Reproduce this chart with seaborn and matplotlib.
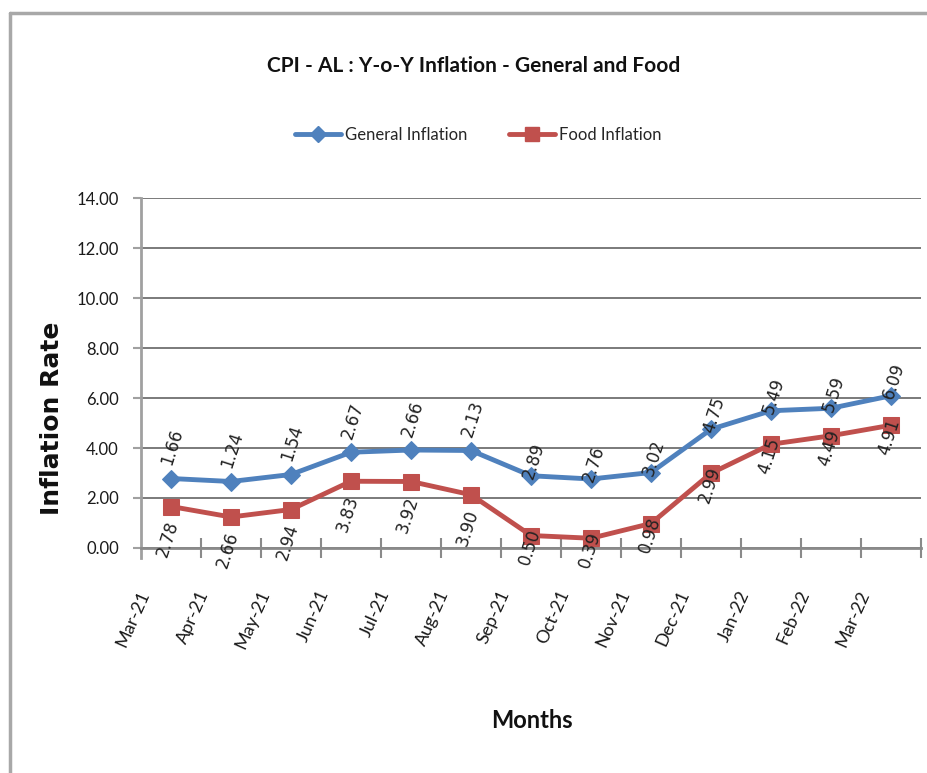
import matplotlib
matplotlib.use("Agg")
import matplotlib.pyplot as plt
import matplotlib.transforms as mtrans
from matplotlib.lines import Line2D
import seaborn as sns
import pandas as pd

# ---- data ----
months = ["Mar-21", "Apr-21", "May-21", "Jun-21", "Jul-21", "Aug-21", "Sep-21",
          "Oct-21", "Nov-21", "Dec-21", "Jan-22", "Feb-22", "Mar-22"]
general = [2.78, 2.66, 2.94, 3.83, 3.92, 3.90, 2.89, 2.76, 3.02, 4.75, 5.49, 5.59, 6.09]
food = [1.66, 1.24, 1.54, 2.67, 2.66, 2.13, 0.50, 0.39, 0.98, 2.99, 4.15, 4.49, 4.91]
yticks = [0, 2, 4, 6, 8, 10, 12, 14]
series_names = ["General Inflation", "Food Inflation"]
colors = ["#4F81BD", "#C0504D"]

sns.set_theme(style="white")
plt.rcParams["font.family"] = ["Lato", "DejaVu Sans"]

W, H = 928, 773
fig = plt.figure(figsize=(W / 100, H / 100), dpi=100)
fig.patch.set_facecolor("white")

# outer chart border (top + left)
fig.add_artist(Line2D([10 / W, 10 / W], [0, 1 - 13 / H], transform=fig.transFigure,
                      color="#a8a8a8", lw=2.5))
fig.add_artist(Line2D([10 / W, 1], [1 - 13 / H, 1 - 13 / H], transform=fig.transFigure,
                      color="#a8a8a8", lw=2.5))

ax = fig.add_axes([141 / W, 1 - 548 / H, 780 / W, 350 / H])

df = pd.DataFrame({
    "Month": months * 2,
    "Rate": general + food,
    "Series": [series_names[0]] * len(months) + [series_names[1]] * len(months),
})
palette = dict(zip(series_names, colors))
markers = {series_names[0]: "D", series_names[1]: "s"}
sizes_ms = {series_names[0]: 9, series_names[1]: 11}

for name in series_names:
    sub = df[df["Series"] == name]
    sns.lineplot(data=sub, x="Month", y="Rate", color=palette[name], marker=markers[name],
                 markersize=sizes_ms[name], markeredgecolor=palette[name], lw=3.5,
                 sort=False, ax=ax, legend=False, zorder=3)

ax.set_xlim(-0.5, len(months) - 0.5)
ax.set_ylim(0, 14)
ax.set_yticks(yticks)
ax.set_yticklabels([f"{v:.2f}" for v in yticks], fontsize=12, color="#1a1a1a")
ax.yaxis.grid(True, color="#7a7a7a", lw=1.4)
ax.xaxis.grid(False)
ax.set_axisbelow(True)

for s in ["top", "right"]:
    ax.spines[s].set_visible(False)
ax.spines["left"].set_color("#a0a0a0")
ax.spines["left"].set_linewidth(2)
ax.spines["left"].set_bounds(-0.4, 14)
ax.spines["bottom"].set_color("#8a8a8a")
ax.spines["bottom"].set_linewidth(2)

ax.tick_params(axis="y", left=True, length=6, width=1.5, color="#a0a0a0", pad=10)
ax.set_xticks(range(len(months)))
ax.set_xticks([i + 0.5 for i in range(len(months))], minor=True)
ax.tick_params(axis="x", which="major", length=0, pad=31)
ax.tick_params(axis="x", which="minor", bottom=True, direction="inout", length=14,
               width=1.5, color="#8a8a8a")
ax.set_xticklabels(months, fontsize=13, color="#1a1a1a")
offset = mtrans.ScaledTranslation(-0.26, 0, fig.dpi_scale_trans)
for lab in ax.get_xticklabels():
    lab.set_rotation(66)
    lab.set_rotation_mode("anchor")
    lab.set_ha("right")
    lab.set_va("center")
    lab.set_transform(lab.get_transform() + offset)

ax.set_xlabel("")
ax.set_ylabel("")

# data labels (placed as in the original chart)
lab_kw = dict(textcoords="offset points", rotation=72, rotation_mode="anchor",
              fontsize=12, color="#222222", va="center", zorder=4,
              family=["DejaVu Sans"])
for i in range(len(months)):
    if i < 6:
        up_text, up_off = food[i], (-3, 10)
        lo_text, lo_off = general[i], (1.5, -11)
    else:
        up_text, up_off = general[i], (-2, -2)
        lo_text, lo_off = food[i], (3, 4)
    ax.annotate(f"{up_text:.2f}", xy=(i, general[i]), xytext=up_off, ha="left", **lab_kw)
    ax.annotate(f"{lo_text:.2f}", xy=(i, food[i]), xytext=lo_off, ha="right", **lab_kw)

# title
fig.text(474 / W, 1 - 66 / H, "CPI - AL : Y-o-Y Inflation - General and Food",
         ha="center", va="center", fontsize=15, fontweight="bold", color="#111111")

# legend
handles = [Line2D([], [], color=c, lw=3.5, marker=markers[n], markersize=sizes_ms[n] - 1,
                  markeredgecolor=c) for n, c in zip(series_names, colors)]
fig.legend(handles, series_names, loc="center", bbox_to_anchor=(478 / W, 1 - 135 / H),
           ncol=2, frameon=False, fontsize=12, handlelength=2.8, columnspacing=2.5,
           handletextpad=0.2)

# axis titles
fig.text(52 / W, 1 - 418 / H, "Inflation Rate", rotation=90, ha="center", va="center",
         fontsize=18, fontweight="bold", color="#111111", family=["DejaVu Sans"])
fig.text(532 / W, 1 - 720 / H, "Months", ha="center", va="center",
         fontsize=17, fontweight="bold", color="#111111")

fig.savefig("out.png", dpi=100, facecolor="white")
